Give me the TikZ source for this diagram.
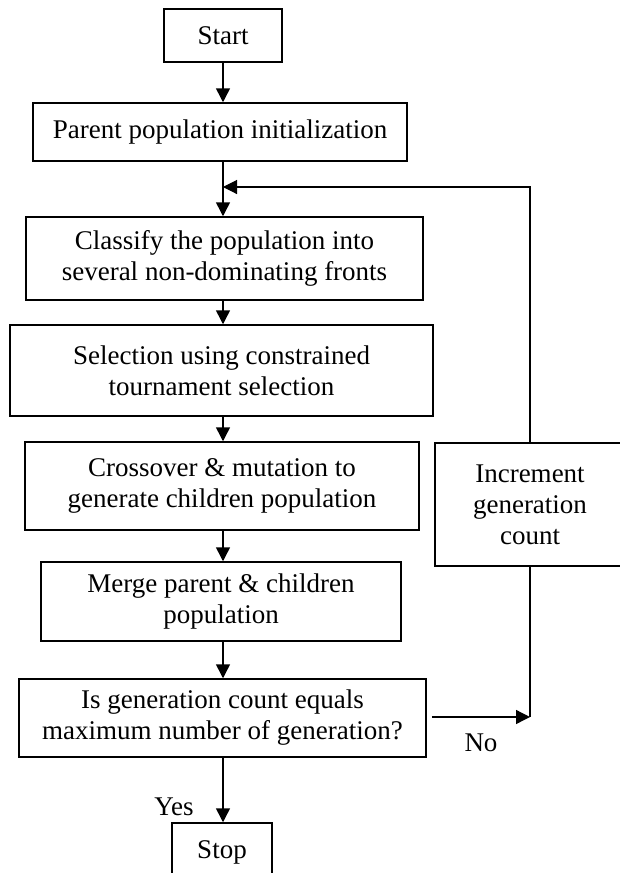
\documentclass[tikz,border=0pt]{standalone}
\usepackage{fontspec}
\setmainfont{Liberation Serif}
\usetikzlibrary{arrows.meta}
\tikzset{
  box/.style={draw, line width=1.5pt, align=center, inner sep=0pt,
    font=\fontsize{27}{31}\selectfont},
  arr/.style={line width=1.5pt, -{Triangle[length=14pt,width=14pt]}},
  loopline/.style={line width=1.1pt},
  lbl/.style={font=\fontsize{27}{31}\selectfont, inner sep=0pt}
}
\begin{document}
\begin{tikzpicture}[x=1pt,y=-1pt]
\useasboundingbox (0,0) rectangle (619,873);
\node[box, minimum width=118pt, minimum height=53pt] (start) at (223,35.5) {Start};
\node[box, minimum width=374pt, minimum height=58pt] (parent) at (220,132) {Parent population initialization};
\node[box, minimum width=397pt, minimum height=83pt] (classify) at (224.5,258.5) {Classify the population into\\several non-dominating fronts};
\node[box, minimum width=423pt, minimum height=91pt] (select) at (221.5,370.5) {Selection using constrained\\tournament selection};
\node[box, minimum width=394pt, minimum height=88pt] (cross) at (222,486) {Crossover \& mutation to\\generate children population};
\node[box, minimum width=360pt, minimum height=79pt] (merge) at (221,601.5) {Merge parent \& children\\population};
\node[box, minimum width=407pt, minimum height=78pt] (isgen) at (222.5,718) {Is generation count equals\\maximum number of generation?};
\node[box, minimum width=100pt, minimum height=58pt] (stop) at (222,852) {Stop};
\node[box, minimum width=190pt, minimum height=123pt] (incr) at (530,504.5) {Increment\\generation\\count};
\coordinate (join) at (223,187);
\coordinate (noend) at (530,717);
\node[lbl] (no) at (481,743) {No};
\node[lbl] (yes) at (174,807) {Yes};
\draw[arr] (start.south) -- (start.south |- parent.north);
\draw[arr] (join |- parent.south) -- (join |- classify.north);
\draw[arr] (join |- classify.south) -- (join |- select.north);
\draw[arr] (join |- select.south) -- (join |- cross.north);
\draw[arr] (join |- cross.south) -- (join |- merge.north);
\draw[arr] (join |- merge.south) -- (join |- isgen.north);
\draw[arr] (join |- isgen.south) -- (join |- stop.north);
\draw[arr, line width=1.3pt] ([xshift=5pt]isgen.east |- noend) -- (noend);
\draw[loopline] (noend) -- (incr.south);
\draw[loopline, -{Triangle[length=14pt,width=14pt]}] (incr.north) |- (join);
\end{tikzpicture}
\end{document}
